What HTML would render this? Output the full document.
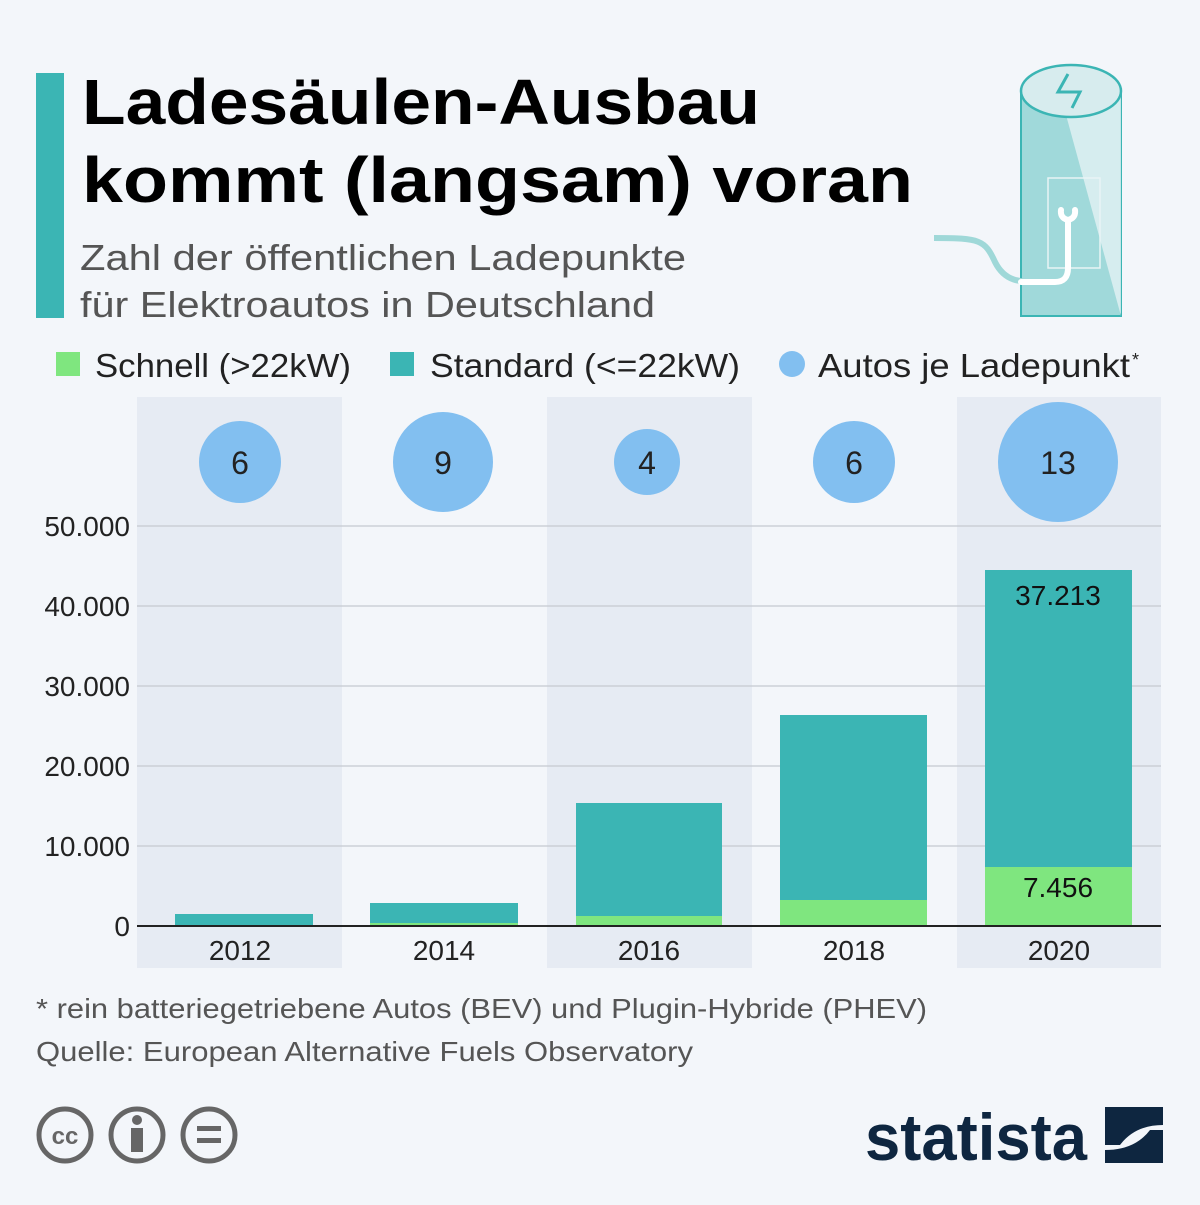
<!DOCTYPE html>
<html><head><meta charset="utf-8"><style>
body{margin:0;width:1200px;height:1200px;background:#f3f6fa;font-family:"Liberation Sans",sans-serif;overflow:hidden}
</style></head><body>
<svg width="1200" height="1200" xmlns="http://www.w3.org/2000/svg" font-family="Liberation Sans, sans-serif">
<rect width="1200" height="1200" fill="#f3f6fa"/>
<rect x="36" y="73" width="28" height="245" fill="#3bb5b4"/>
<text x="82" y="124" font-size="64" font-weight="bold" fill="#000" textLength="678" lengthAdjust="spacingAndGlyphs">Ladesäulen-Ausbau</text>
<text x="82" y="202" font-size="64" font-weight="bold" fill="#000" textLength="831" lengthAdjust="spacingAndGlyphs">kommt (langsam) voran</text>
<text x="80" y="270" font-size="36" fill="#555" textLength="606" lengthAdjust="spacingAndGlyphs">Zahl der öffentlichen Ladepunkte</text>
<text x="80" y="317" font-size="36" fill="#555" textLength="575" lengthAdjust="spacingAndGlyphs">für Elektroautos in Deutschland</text>
<!-- icon -->
<g>
<rect x="1021" y="93" width="100" height="223" fill="#3bb5b4" fill-opacity="0.45" stroke="#3bb5b4" stroke-width="2"/>
<polygon points="1060,93 1121,93 1121,316" fill="#e4f1f4" opacity="0.8"/>
<ellipse cx="1071" cy="91" rx="50" ry="26" fill="#d7ecee" stroke="#3bb5b4" stroke-width="2.5"/>
<path d="M1068,74 L1058,92 L1080,92 L1072,108" fill="none" stroke="#3bb5b4" stroke-width="3"/>
<rect x="1048" y="178" width="52" height="90" rx="0" fill="none" stroke="#e8f4f5" stroke-width="1.5"/>
<path d="M934,238 C980,238 985,240 995,262 C1005,282 1020,282 1040,282 L1055,282 Q1068,282 1068,268 L1068,220" fill="none" stroke="#9fd8d8" stroke-width="6"/>
<path d="M1021,282 L1055,282 Q1068,282 1068,268 L1068,220 Q1060,218 1061,210 M1068,220 Q1076,218 1075,210" fill="none" stroke="#fff" stroke-width="6" stroke-linecap="round"/>
</g>
<!-- legend -->
<rect x="56" y="352" width="24" height="24" fill="#7fe67f"/>
<text x="95" y="377" font-size="33" fill="#222" textLength="256" lengthAdjust="spacingAndGlyphs">Schnell (&gt;22kW)</text>
<rect x="390" y="352" width="24" height="24" fill="#3bb5b4"/>
<text x="430" y="377" font-size="33" fill="#222" textLength="310" lengthAdjust="spacingAndGlyphs">Standard (&lt;=22kW)</text>
<circle cx="792" cy="364" r="13" fill="#82bff0"/>
<text x="818" y="377" font-size="33" fill="#222" textLength="312" lengthAdjust="spacingAndGlyphs">Autos je Ladepunkt</text>
<text x="1132" y="366" font-size="18" fill="#222">*</text>
<!-- bands -->
<rect x="137" y="397" width="205" height="571" fill="#e6ebf3"/>
<rect x="547" y="397" width="205" height="571" fill="#e6ebf3"/>
<rect x="957" y="397" width="204" height="571" fill="#e6ebf3"/>
<g stroke="#c5c9d0" stroke-width="1.2">
<line x1="137" x2="1161" y1="526" y2="526"/><line x1="137" x2="1161" y1="606" y2="606"/>
<line x1="137" x2="1161" y1="686" y2="686"/><line x1="137" x2="1161" y1="766" y2="766"/>
<line x1="137" x2="1161" y1="846" y2="846"/>
</g>
<g font-size="28" fill="#222" text-anchor="end">
<text x="130" y="536">50.000</text><text x="130" y="616">40.000</text><text x="130" y="696">30.000</text>
<text x="130" y="776">20.000</text><text x="130" y="856">10.000</text><text x="130" y="936">0</text>
</g>
<!-- bars -->
<rect x="175" y="914" width="138" height="12" fill="#3bb5b4"/>
<rect x="370" y="903" width="148" height="21" fill="#3bb5b4"/><rect x="370" y="923" width="148" height="3" fill="#7fe67f"/>
<rect x="576" y="803" width="146" height="113" fill="#3bb5b4"/><rect x="576" y="916" width="146" height="10" fill="#7fe67f"/>
<rect x="780" y="715" width="147" height="185" fill="#3bb5b4"/><rect x="780" y="900" width="147" height="26" fill="#7fe67f"/>
<rect x="985" y="570" width="147" height="297" fill="#3bb5b4"/><rect x="985" y="867" width="147" height="59" fill="#7fe67f"/>
<line x1="137" x2="1161" y1="926" y2="926" stroke="#222" stroke-width="2"/>
<text x="1058" y="605" font-size="28" fill="#111" text-anchor="middle">37.213</text>
<text x="1058" y="897" font-size="28" fill="#111" text-anchor="middle">7.456</text>
<g font-size="28" fill="#222" text-anchor="middle">
<text x="240" y="960">2012</text><text x="444" y="960">2014</text><text x="649" y="960">2016</text>
<text x="854" y="960">2018</text><text x="1059" y="960">2020</text>
</g>
<!-- bubbles -->
<g fill="#82bff0">
<circle cx="240" cy="462" r="41"/><circle cx="443" cy="462" r="50"/><circle cx="647" cy="462" r="33"/>
<circle cx="854" cy="462" r="41"/><circle cx="1058" cy="462" r="60"/>
</g>
<g font-size="32" fill="#222" text-anchor="middle">
<text x="240" y="474">6</text><text x="443" y="474">9</text><text x="647" y="474">4</text>
<text x="854" y="474">6</text><text x="1058" y="474">13</text>
</g>
<text x="36" y="1018" font-size="28" fill="#555" textLength="891" lengthAdjust="spacingAndGlyphs">* rein batteriegetriebene Autos (BEV) und Plugin-Hybride (PHEV)</text>
<text x="36" y="1061" font-size="28" fill="#555" textLength="657" lengthAdjust="spacingAndGlyphs">Quelle: European Alternative Fuels Observatory</text>
<!-- cc icons -->
<g fill="none" stroke="#666" stroke-width="5">
<circle cx="65" cy="1135" r="26"/><circle cx="137" cy="1135" r="26"/><circle cx="209" cy="1135" r="26"/>
</g>
<text x="65" y="1144" font-size="24" font-weight="bold" fill="#666" text-anchor="middle">cc</text>
<circle cx="137" cy="1120" r="5" fill="#666"/><rect x="131" y="1128" width="12" height="24" fill="#666"/>
<rect x="197" y="1126" width="24" height="5" fill="#666"/><rect x="197" y="1138" width="24" height="5" fill="#666"/>
<text x="865" y="1160" font-size="66" font-weight="bold" fill="#0e2640" textLength="222" lengthAdjust="spacingAndGlyphs">statista</text>
<path d="M1105,1107 L1163,1107 L1163,1125 Q1135,1125 1120,1145 L1105,1145 Z M1105,1163 L1105,1150 Q1135,1150 1150,1130 L1163,1130 L1163,1163 Z" fill="#0e2640"/>
</svg>
</body></html>
